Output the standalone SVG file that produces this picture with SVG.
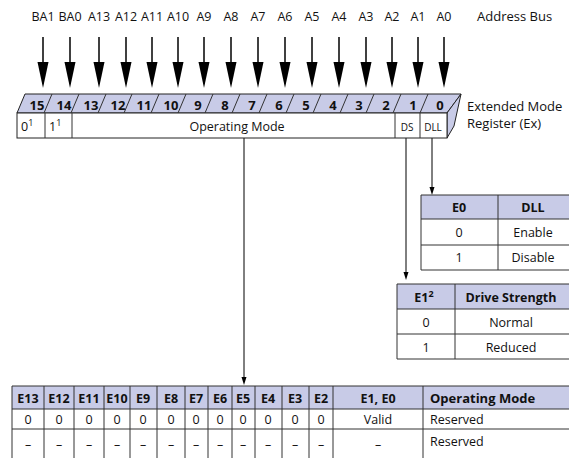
<svg xmlns="http://www.w3.org/2000/svg" width="569" height="458" viewBox="0 0 569 458">
<style>
text{font-family:"Open Sans","Liberation Sans",sans-serif;font-size:12.5px;fill:#111}
.b{font-weight:bold}
.c{text-anchor:middle}
.n{font-size:13px;font-weight:bold}
.bl{stroke:#000;stroke-width:1.5;fill:none}
.ln{stroke:#000;stroke-width:1;fill:none}
.g{stroke:#333;stroke-width:1;fill:none}
.hd{fill:#c8cbe7}
.sup{font-size:9px}
</style>
<defs>
<marker id="big" markerWidth="26" markerHeight="12" refX="8" refY="6" orient="auto" markerUnits="userSpaceOnUse" viewBox="0 0 26 12"><path d="M0,0.5 L26,6 L0,11.5 Z" fill="#000"/></marker>
<marker id="sm" markerWidth="8" markerHeight="6" refX="2" refY="3" orient="auto" markerUnits="userSpaceOnUse" viewBox="0 0 8 6"><path d="M0,0.5 L8,3 L0,5.5 Z" fill="#000"/></marker>
</defs>

<g id="address-bus">
<text class="c" x="43" y="21">BA1</text>
<text class="c" x="70" y="21">BA0</text>
<text class="c" x="99" y="21">A13</text>
<text class="c" x="126" y="21">A12</text>
<text class="c" x="152" y="21">A11</text>
<text class="c" x="178" y="21">A10</text>
<text class="c" x="204" y="21">A9</text>
<text class="c" x="231" y="21">A8</text>
<text class="c" x="258" y="21">A7</text>
<text class="c" x="285" y="21">A6</text>
<text class="c" x="312" y="21">A5</text>
<text class="c" x="339" y="21">A4</text>
<text class="c" x="366" y="21">A3</text>
<text class="c" x="392" y="21">A2</text>
<text class="c" x="418" y="21">A1</text>
<text class="c" x="444" y="21">A0</text>
<text x="477" y="21" style="font-size:13px">Address Bus</text>
</g>

<g id="connectors">
<path class="bl" d="M43,37V70" marker-end="url(#big)"/>
<path class="bl" d="M70,37V70" marker-end="url(#big)"/>
<path class="bl" d="M99,37V70" marker-end="url(#big)"/>
<path class="bl" d="M126,37V70" marker-end="url(#big)"/>
<path class="bl" d="M152,37V70" marker-end="url(#big)"/>
<path class="bl" d="M178,37V70" marker-end="url(#big)"/>
<path class="bl" d="M204,37V70" marker-end="url(#big)"/>
<path class="bl" d="M231,37V70" marker-end="url(#big)"/>
<path class="bl" d="M258,37V70" marker-end="url(#big)"/>
<path class="bl" d="M285,37V70" marker-end="url(#big)"/>
<path class="bl" d="M312,37V70" marker-end="url(#big)"/>
<path class="bl" d="M339,37V70" marker-end="url(#big)"/>
<path class="bl" d="M366,37V70" marker-end="url(#big)"/>
<path class="bl" d="M392,37V70" marker-end="url(#big)"/>
<path class="bl" d="M418,37V70" marker-end="url(#big)"/>
<path class="bl" d="M444,37V70" marker-end="url(#big)"/>
<path class="ln" d="M244,138V379" marker-end="url(#sm)"/>
<path class="ln" d="M406,138V274" marker-end="url(#sm)"/>
<path class="ln" d="M432,138V189" marker-end="url(#sm)"/>
</g>

<g id="register">
<polygon class="hd" points="17,113 25,94 461,94 447,113" stroke="#222" stroke-width="1"/>
<polygon class="hd" points="447,113 461,94 454,126 447,138" stroke="#222" stroke-width="1"/>
<rect x="17" y="113" width="430" height="25" fill="#fff" stroke="#222" stroke-width="1"/>
<path class="g" d="M52,94L44,113M79,94L71,113M106,94L98,113M132,94L124,113M159,94L151,113M186,94L178,113M213,94L205,113M240,94L232,113M267,94L259,113M294,94L286,113M321,94L313,113M348,94L340,113M374,94L366,113M401,94L393,113M428,94L420,113"/>
<text class="c n" x="37" y="110">15</text>
<text class="c n" x="64" y="110">14</text>
<text class="c n" x="91" y="110">13</text>
<text class="c n" x="118" y="110">12</text>
<text class="c n" x="144" y="110">11</text>
<text class="c n" x="171" y="110">10</text>
<text class="c n" x="198" y="110">9</text>
<text class="c n" x="225" y="110">8</text>
<text class="c n" x="252" y="110">7</text>
<text class="c n" x="279" y="110">6</text>
<text class="c n" x="306" y="110">5</text>
<text class="c n" x="333" y="110">4</text>
<text class="c n" x="359" y="110">3</text>
<text class="c n" x="386" y="110">2</text>
<text class="c n" x="413" y="110">1</text>
<text class="c n" x="440" y="110">0</text>
<path class="g" d="M45,113V138M72,113V138M395,113V138M420,113V138"/>
<text x="21" y="131">0<tspan class="sup" dy="-5">1</tspan></text>
<text x="49" y="131">1<tspan class="sup" dy="-5">1</tspan></text>
<text class="c" x="237" y="131">Operating Mode</text>
<text class="c" x="407" y="131" style="font-size:10px">DS</text>
<text class="c" x="433" y="131" style="font-size:10px">DLL</text>
<text x="467" y="111" style="font-size:13px">Extended Mode</text>
<text x="467" y="128" style="font-size:13px">Register (Ex)</text>
</g>

<g id="table-e0">
<rect class="hd" x="421" y="195" width="149" height="24"/>
<path class="g" d="M570,195H421V270H570M421,219H570M421,245H570M498,195V270"/>
<text class="c b" x="459" y="212">E0</text>
<text class="c b" x="533" y="212">DLL</text>
<text class="c" x="459" y="237">0</text>
<text class="c" x="533" y="237">Enable</text>
<text class="c" x="459" y="262">1</text>
<text class="c" x="533" y="262">Disable</text>
</g>

<g id="table-e1">
<rect class="hd" x="397" y="284" width="173" height="25"/>
<path class="g" d="M570,284H397V359H570M397,309H570M397,334H570M455,284V359"/>
<text class="c b" x="424" y="302">E1<tspan class="sup" dy="-5">2</tspan></text>
<text class="c b" x="511" y="302">Drive Strength</text>
<text class="c" x="426" y="327">0</text>
<text class="c" x="511" y="327">Normal</text>
<text class="c" x="426" y="352">1</text>
<text class="c" x="511" y="352">Reduced</text>
</g>

<g id="table-operating-mode">
<rect class="hd" x="12" y="386" width="558" height="23"/>
<path class="g" d="M570,386H12V458M12,409H570M12,429H570M44,386V458M74,386V458M104,386V458M130,386V458M157,386V458M185,386V458M208,386V458M232,386V458M255,386V458M282,386V458M309,386V458M333,386V458M423,386V458"/>
<text class="c b" x="28" y="403">E13</text>
<text class="c b" x="59" y="403">E12</text>
<text class="c b" x="89" y="403">E11</text>
<text class="c b" x="117" y="403">E10</text>
<text class="c b" x="143" y="403">E9</text>
<text class="c b" x="171" y="403">E8</text>
<text class="c b" x="196" y="403">E7</text>
<text class="c b" x="220" y="403">E6</text>
<text class="c b" x="243" y="403">E5</text>
<text class="c b" x="268" y="403">E4</text>
<text class="c b" x="295" y="403">E3</text>
<text class="c b" x="321" y="403">E2</text>
<text class="c b" x="378" y="403">E1, E0</text>
<text class="b" x="430" y="403" style="font-size:13px">Operating Mode</text>
<text class="c" x="28" y="424">0</text>
<text class="c" x="59" y="424">0</text>
<text class="c" x="89" y="424">0</text>
<text class="c" x="117" y="424">0</text>
<text class="c" x="143" y="424">0</text>
<text class="c" x="171" y="424">0</text>
<text class="c" x="196" y="424">0</text>
<text class="c" x="220" y="424">0</text>
<text class="c" x="243" y="424">0</text>
<text class="c" x="268" y="424">0</text>
<text class="c" x="295" y="424">0</text>
<text class="c" x="321" y="424">0</text>
<text class="c" x="378" y="424">Valid</text>
<text x="430" y="424">Reserved</text>
<text class="c" x="28" y="449">–</text>
<text class="c" x="59" y="449">–</text>
<text class="c" x="89" y="449">–</text>
<text class="c" x="117" y="449">–</text>
<text class="c" x="143" y="449">–</text>
<text class="c" x="171" y="449">–</text>
<text class="c" x="196" y="449">–</text>
<text class="c" x="220" y="449">–</text>
<text class="c" x="243" y="449">–</text>
<text class="c" x="268" y="449">–</text>
<text class="c" x="295" y="449">–</text>
<text class="c" x="321" y="449">–</text>
<text class="c" x="378" y="449">–</text>
<text x="430" y="446">Reserved</text>
</g>
</svg>
